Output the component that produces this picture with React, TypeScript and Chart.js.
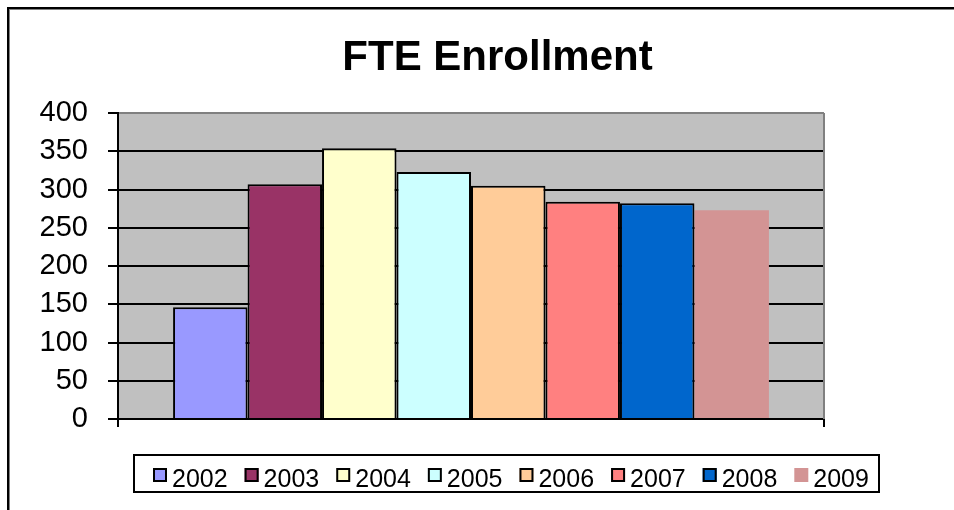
import React, { useEffect, useRef } from 'react';
import { Chart, registerables } from 'chart.js';

Chart.register(...registerables);

// ---- data ----
const TITLE = 'FTE Enrollment';
const categories = ['FTE'];
const years = ['2002', '2003', '2004', '2005', '2006', '2007', '2008', '2009'];
const enrollment = [146, 307, 354, 323, 305, 284, 282, 273];
const barColors = ['#9999FF', '#993366', '#FFFFCC', '#CCFFFF', '#FFCC99', '#FF8080', '#0066CC', '#D39494'];
const barBorders = [2, 2, 2, 2, 2, 2, 2, 0];
const yMin = 0;
const yMax = 400;
const yStep = 50;

const FONT = '"Liberation Sans", Arial, sans-serif';

const decor = {
  id: 'decor',
  beforeDraw(chart: any) {
    const { ctx, chartArea: a, width, height } = chart;
    ctx.save();
    ctx.fillStyle = '#ffffff';
    ctx.fillRect(0, 0, width, height);
    // plot area
    ctx.fillStyle = '#C0C0C0';
    ctx.fillRect(a.left, a.top, a.right - a.left, a.bottom - a.top);
    // outer frame (top + left visible)
    ctx.fillStyle = '#000';
    ctx.fillRect(7, 7, width, 2);
    ctx.fillRect(7, 7, 2, height);
    ctx.fillStyle = '#808080';
    ctx.fillRect(9, 9, width, 1);
    ctx.fillRect(9, 9, 1, height);
    // title
    ctx.fillStyle = '#000';
    ctx.font = `bold 42px ${FONT}`;
    ctx.textAlign = 'center';
    ctx.textBaseline = 'alphabetic';
    ctx.fillText(TITLE, 497.5, 70);
    ctx.restore();
  },
  afterDraw(chart: any) {
    const { ctx, chartArea: a } = chart;
    ctx.save();
    // right plot border
    ctx.fillStyle = '#808080';
    ctx.fillRect(a.right - 1, a.top, 2, a.bottom - a.top);
    // legend
    const lg = { left: 133, top: 454, right: 880, bottom: 493 };
    ctx.lineWidth = 2;
    ctx.strokeStyle = '#000';
    ctx.strokeRect(lg.left + 1, lg.top + 1, lg.right - lg.left - 2, lg.bottom - lg.top - 2);
    ctx.font = `25px ${FONT}`;
    ctx.textAlign = 'left';
    ctx.textBaseline = 'alphabetic';
    let x = lg.left + 20;
    chart.data.datasets.forEach((ds: any) => {
      ctx.fillStyle = ds.backgroundColor;
      ctx.fillRect(x, 468, 14, 14);
      if (ds.borderWidth) {
        ctx.lineWidth = 2;
        ctx.strokeStyle = '#000';
        ctx.strokeRect(x + 1, 469, 12, 12);
      }
      ctx.fillStyle = '#000';
      ctx.fillText(ds.label, x + 19, 487);
      x += 19 + ctx.measureText(ds.label).width + 17;
    });
    ctx.restore();
  },
};

export default function App() {
  const ref = useRef<HTMLCanvasElement>(null);
  useEffect(() => {
    const chart = new Chart(ref.current as HTMLCanvasElement, {
      type: 'bar',
      data: {
        labels: categories,
        datasets: years.map((y, i) => ({
          label: y,
          data: [enrollment[i]],
          backgroundColor: barColors[i],
          borderColor: '#000',
          borderWidth: barBorders[i],
          barPercentage: 1,
          categoryPercentage: 0.844,
        })),
      },
      options: {
        animation: false,
        responsive: false,
        devicePixelRatio: 1,
        events: [],
        layout: { padding: { top: 113, right: 130, bottom: 0, left: 0 } },
        plugins: {
          legend: { display: false },
          title: { display: false },
          tooltip: { enabled: false },
        },
        scales: {
          x: {
            type: 'category',
            ticks: { display: false },
            grid: {
              drawOnChartArea: false,
              drawTicks: true,
              tickLength: 8,
              color: '#000',
              lineWidth: 2,
              offset: true,
            },
            border: { display: true, color: '#000', width: 2 },
            afterFit: (s: any) => {
              s.height = 91;
            },
          },
          y: {
            min: yMin,
            max: yMax,
            ticks: {
              stepSize: yStep,
              autoSkip: false,
              color: '#000',
              padding: 20,
              font: { family: FONT, size: 29, lineHeight: 1 },
            },
            grid: {
              color: (c: any) => (c.tick && c.tick.value === yMax ? '#808080' : '#000'),
              tickColor: '#000',
              lineWidth: 2,
              tickLength: 10,
            },
            border: { display: true, color: '#000', width: 2 },
            afterFit: (s: any) => {
              s.width = 118;
            },
          },
        },
      },
      plugins: [decor],
    });
    return () => chart.destroy();
  }, []);
  return (
    <canvas
      ref={ref}
      width={954}
      height={510}
      style={{ position: 'absolute', left: 0, top: 0, width: 954, height: 510 }}
    />
  );
}
